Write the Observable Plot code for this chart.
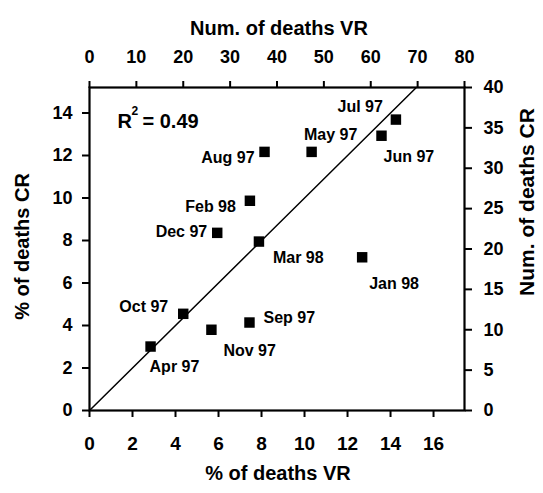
<!DOCTYPE html>
<html>
<head>
<meta charset="utf-8">
<script src="https://cdn.jsdelivr.net/npm/d3@7"></script>
<script src="https://cdn.jsdelivr.net/npm/@observablehq/plot@0.6"></script>
<style>
  body { margin: 0; background: #fff; }
  svg text { font-family: 'Liberation Sans', Arial, sans-serif; font-weight: 700; }
</style>
</head>
<body>
<div id="chart"></div>
<script>
// ---- data ----
const months = ["Apr 97","May 97","Jun 97","Jul 97","Aug 97","Sep 97","Oct 97","Nov 97","Dec 97","Jan 98","Feb 98","Mar 98"];
const pctVR  = [2.84, 10.33, 13.58, 14.25, 8.14, 7.44, 4.36, 5.67, 5.94, 12.68, 7.46, 7.88];
const pctCR  = [3.01, 12.17, 12.93, 13.69, 12.17, 4.14, 4.55, 3.80, 8.36, 7.21, 9.87, 7.95];

const xTicks     = [0, 2, 4, 6, 8, 10, 12, 14, 16];          // % of deaths VR
const yTicks     = [0, 2, 4, 6, 8, 10, 12, 14];              // % of deaths CR
const topTicks   = [0, 10, 20, 30, 40, 50, 60, 70, 80];      // Num. of deaths VR
const rightTicks = [0, 5, 10, 15, 20, 25, 30, 35, 40];       // Num. of deaths CR

const xMax = 17.44, yMax = 15.2;          // axis extents in %
const vrAtXMax = 80, crAtYMax = 40;       // counts at the same extents
const fitX = [0, 15.2];
const fitY = [0, 15.2];
const r2Base = "R", r2Sup = "2", r2Value = "= 0.49";

const xTitle = "% of deaths VR";
const yTitle = "% of deaths CR";
const topTitle = "Num. of deaths VR";
const rightTitle = "Num. of deaths CR";

// ---- layout (label placement relative to each point) ----
const labelPlacement = {
  "Apr 97": {anchor: "start",  dx: -1,  dy: 20},
  "May 97": {anchor: "middle", dx: 19,  dy: -17},
  "Jun 97": {anchor: "start",  dx: 2,   dy: 21},
  "Jul 97": {anchor: "end",    dx: -13, dy: -13},
  "Aug 97": {anchor: "end",    dx: -10, dy: 6},
  "Sep 97": {anchor: "start",  dx: 14,  dy: -5},
  "Oct 97": {anchor: "end",    dx: -15, dy: -7},
  "Nov 97": {anchor: "start",  dx: 12,  dy: 21},
  "Dec 97": {anchor: "end",    dx: -10, dy: -1},
  "Jan 98": {anchor: "start",  dx: 7,   dy: 27},
  "Feb 98": {anchor: "end",    dx: -14, dy: 6},
  "Mar 98": {anchor: "start",  dx: 14,  dy: 16}
};

const table = months.map((m, i) => ({month: m, vr: pctVR[i], cr: pctCR[i]}));
const fit = fitX.map((x, i) => ({x, y: fitY[i]}));
const vrPerPct = vrAtXMax / xMax;
const crPerPct = crAtYMax / yMax;
const topPos = topTicks.map(n => n / vrPerPct);
const rightPos = rightTicks.map(n => n / crPerPct);

const bold = {fontWeight: "bold", fontFamily: "Liberation Sans, Arial, sans-serif", fill: "black"};

const labelMarks = table.map(d => {
  const p = labelPlacement[d.month];
  return Plot.text([d], {
    x: "vr", y: "cr", text: "month",
    textAnchor: p.anchor, dx: p.dx, dy: p.dy,
    fontSize: 16, ...bold
  });
});

const noText = () => "";

const chart = Plot.plot({
  width: 543,
  height: 493,
  marginLeft: 89,
  marginRight: 79,
  marginTop: 87,
  marginBottom: 83,
  style: "background:#fff; font-family:'Liberation Sans', Arial, sans-serif; font-weight:bold; color:black; overflow:visible;",
  x: {domain: [0, xMax], axis: null},
  y: {domain: [0, yMax], axis: null},
  marks: [
    Plot.line(fit, {x: "x", y: "y", stroke: "black", strokeWidth: 1.5}),
    Plot.dot(table, {x: "vr", y: "cr", symbol: "square", r: 5.9, fill: "black", stroke: "none"}),
    ...labelMarks,
    Plot.text([r2Base], {frameAnchor: "top-left", textAnchor: "start", dx: 28, dy: 26, fontSize: 20, ...bold}),
    Plot.text([r2Sup], {frameAnchor: "top-left", textAnchor: "start", dx: 42, dy: 19, fontSize: 12, ...bold}),
    Plot.text([r2Value], {frameAnchor: "top-left", textAnchor: "start", dx: 53, dy: 26, fontSize: 20, ...bold}),
    // tick marks via axes
    Plot.axisX(xTicks, {anchor: "bottom", tickSize: 7, strokeWidth: 2, label: null, tickFormat: noText}),
    Plot.axisX(topPos, {anchor: "top", tickSize: 7, strokeWidth: 2, label: null, tickFormat: noText}),
    Plot.axisY(yTicks, {anchor: "left", tickSize: 7, strokeWidth: 2, label: null, tickFormat: noText}),
    Plot.axisY(rightPos, {anchor: "right", tickSize: 7, strokeWidth: 2, label: null, tickFormat: noText}),
    // tick labels
    Plot.text(xTicks, {x: d => d, frameAnchor: "bottom", lineAnchor: "top", dy: 26, fontSize: 19, ...bold}),
    Plot.text(topTicks, {x: (d, i) => topPos[i], frameAnchor: "top", lineAnchor: "bottom", dy: -25, fontSize: 18, ...bold}),
    Plot.text(yTicks, {y: d => d, frameAnchor: "left", textAnchor: "end", dx: -17, fontSize: 18, ...bold}),
    Plot.text(rightTicks, {y: (d, i) => rightPos[i], frameAnchor: "right", textAnchor: "start", dx: 19, fontSize: 18, ...bold}),
    Plot.frame({stroke: "black", strokeWidth: 2.2}),
    Plot.text([xTitle], {frameAnchor: "bottom", textAnchor: "middle", dy: 69, dx: 1, fontSize: 20, ...bold}),
    Plot.text([topTitle], {frameAnchor: "top", textAnchor: "middle", dy: -67, dx: 2, fontSize: 20, ...bold}),
    Plot.text([yTitle], {frameAnchor: "left", textAnchor: "middle", rotate: -90, dx: -66.5, dy: -2.5, fontSize: 20, ...bold}),
    Plot.text([rightTitle], {frameAnchor: "right", textAnchor: "middle", rotate: -90, dx: 63, dy: -47, fontSize: 21, ...bold})
  ]
});

document.getElementById("chart").appendChild(chart);
</script>
</body>
</html>
